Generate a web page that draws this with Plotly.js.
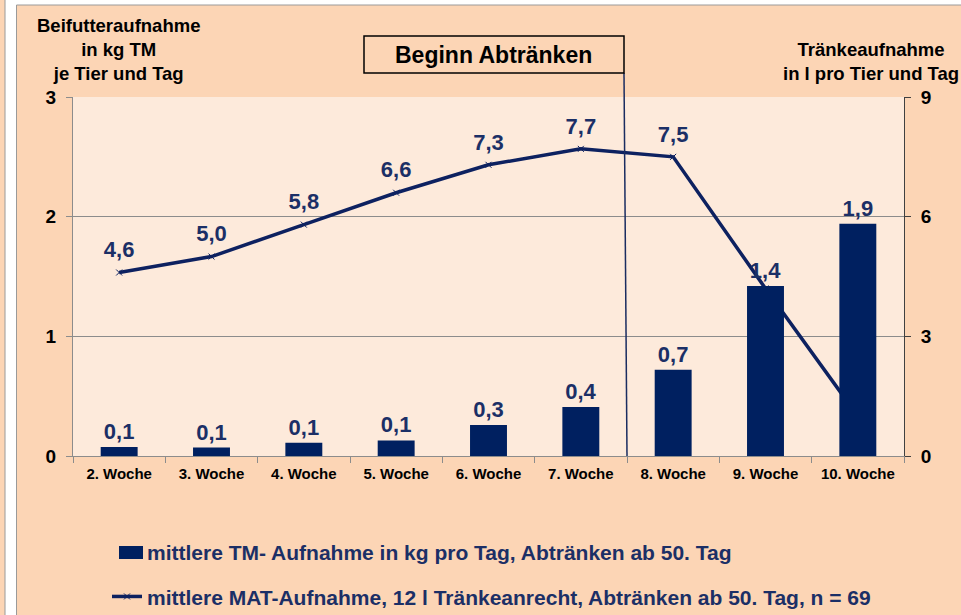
<!DOCTYPE html>
<html>
<head>
<meta charset="utf-8">
<script src="https://cdn.plot.ly/plotly-3.0.1.min.js"></script>
<style>
  html, body { margin: 0; padding: 0; background: #ffffff; }
  #chart { width: 961px; height: 615px; }
</style>
</head>
<body>
<div id="chart"></div>
<script>
// ---- data ----
const weeks = ["2. Woche", "3. Woche", "4. Woche", "5. Woche", "6. Woche", "7. Woche", "8. Woche", "9. Woche", "10. Woche"];
const tmIntake = [0.075, 0.07, 0.11, 0.13, 0.26, 0.41, 0.72, 1.42, 1.94];
const tmLabels = ["0,1", "0,1", "0,1", "0,1", "0,3", "0,4", "0,7", "1,4", "1,9"];
const matIntake = [4.6, 5.0, 5.8, 6.6, 7.3, 7.7, 7.5, 4.2, 1.0];
const matLabels = ["4,6", "5,0", "5,8", "6,6", "7,3", "7,7", "7,5", "", ""];
const leftTicks = [0, 1, 2, 3];
const rightTicks = [0, 3, 6, 9];

const navy = "#002060";
const labelNavy = "#1b2f66";
const font = "Liberation Sans, Arial, sans-serif";

// plot area in pixels
const L = 73, R = 904, T = 97, B = 456, W = 961, H = 615;
const px = x => (x - L) / (R - L);
const py = y => (B - y) / (B - T);

const traces = [
  {
    type: "bar",
    name: "mittlere TM- Aufnahme in kg pro Tag, Abtränken ab 50. Tag",
    x: weeks,
    y: tmIntake,
    yaxis: "y2",
    marker: { color: navy },
    text: tmLabels,
    textposition: "outside",
    cliponaxis: false,
    constraintext: "none",
    textfont: { family: font, size: 22, color: labelNavy, weight: "bold" },
    legendgroup: "a",
    hoverinfo: "x+y"
  },
  {
    type: "scatter",
    mode: "lines+markers",
    name: "mittlere MAT-Aufnahme, 12 l Tränkeanrecht, Abtränken ab 50. Tag, n = 69",
    x: weeks,
    y: matIntake,
    yaxis: "y",
    line: { color: "#0d2160", width: 3.5 },
    marker: { symbol: "x-thin", size: 6, color: "#0d2160", line: { color: "#0d2160", width: 1 } },
    cliponaxis: false,
    legendgroup: "b"
  },
  {
    type: "scatter",
    mode: "markers+text",
    x: weeks,
    y: matIntake,
    yaxis: "y",
    showlegend: false,
    hoverinfo: "skip",
    marker: { size: 14, color: "rgba(0,0,0,0)" },
    text: matLabels,
    textposition: "top center",
    cliponaxis: false,
    textfont: { family: font, size: 22, color: labelNavy, weight: "bold" },
    legendgroup: "b"
  }
];

const layout = {
  width: W,
  height: H,
  margin: { l: L, r: W - R, t: T, b: H - B, pad: 0, autoexpand: false },
  paper_bgcolor: "#fcd5b5",
  plot_bgcolor: "#fdeadb",
  showlegend: true,
  legend: {
    x: px(107), y: py(532), xanchor: "left", yanchor: "top",
    orientation: "v",
    traceorder: "grouped",
    tracegroupgap: 14,
    bgcolor: "rgba(0,0,0,0)",
    font: { family: font, size: 21, color: labelNavy, weight: "bold" }
  },
  bargap: 0.6,
  xaxis: {
    type: "category",
    range: [-0.5, weeks.length - 0.5],
    tickson: "boundaries",
    ticks: "outside",
    ticklen: 6,
    tickcolor: "#8c8c8c",
    showline: true,
    linecolor: "#8c8c8c",
    linewidth: 1,
    showgrid: false,
    ticklabelstandoff: 4,
    tickfont: { family: font, size: 15, color: "#000000", weight: "bold" }
  },
  yaxis: {
    side: "right",
    range: [0, 9],
    tickvals: rightTicks,
    ticktext: rightTicks.map(String),
    ticks: "outside",
    ticklen: 6,
    tickcolor: "#404040",
    showline: true,
    linecolor: "#404040",
    linewidth: 1,
    showgrid: true,
    gridcolor: "#8c8c8c",
    gridwidth: 1,
    zeroline: false,
    ticklabelstandoff: 6,
    tickfont: { family: font, size: 19, color: "#000000", weight: "bold" }
  },
  yaxis2: {
    overlaying: "y",
    side: "left",
    range: [0, 3],
    tickvals: leftTicks,
    ticktext: leftTicks.map(String),
    ticks: "outside",
    ticklen: 6,
    tickcolor: "#8c8c8c",
    showline: true,
    linecolor: "#8c8c8c",
    linewidth: 1,
    showgrid: false,
    zeroline: false,
    ticklabelstandoff: 6,
    tickfont: { family: font, size: 19, color: "#000000", weight: "bold" }
  },
  shapes: [
    // white strip and frame
    { type: "rect", xref: "paper", yref: "paper", layer: "below",
      x0: px(16), x1: px(W + 5), y0: py(5), y1: py(-5),
      fillcolor: "#ffffff", line: { width: 0 } },
    { type: "rect", xref: "paper", yref: "paper", layer: "below",
      x0: px(5), x1: px(16), y0: py(H + 5), y1: py(-5),
      fillcolor: "#ffffff", line: { width: 0 } },
    { type: "line", xref: "paper", yref: "paper", layer: "below",
      x0: px(5), x1: px(5), y0: py(H + 5), y1: py(-5),
      line: { color: "#9a9a9a", width: 1 } },
    { type: "line", xref: "paper", yref: "paper", layer: "below",
      x0: px(16.5), x1: px(16.5), y0: py(H + 5), y1: py(5),
      line: { color: "#9a9a9a", width: 1 } },
    { type: "line", xref: "paper", yref: "paper", layer: "below",
      x0: px(16.5), x1: px(W + 5), y0: py(5), y1: py(5),
      line: { color: "#9a9a9a", width: 1 } },
    // wider legend swatch for the bar series
    { type: "rect", xref: "paper", yref: "paper", layer: "above",
      x0: px(119), x1: px(143), y0: py(559), y1: py(546),
      fillcolor: navy, line: { width: 0 } },
    // Beginn Abtränken box and marker line
    { type: "line", xref: "paper", yref: "paper", layer: "above",
      x0: px(624), x1: px(627), y0: py(73), y1: py(456),
      line: { color: "#1a2c60", width: 1.5 } },
    { type: "rect", xref: "paper", yref: "paper", layer: "above",
      x0: px(364), x1: px(624), y0: py(73), y1: py(36),
      fillcolor: "#fcd5b5", line: { color: "#000000", width: 1.5 } }
  ],
  annotations: [
    { xref: "paper", yref: "paper", x: px(494), y: py(55), xanchor: "center", yanchor: "middle",
      text: "Beginn Abtränken", showarrow: false,
      font: { family: font, size: 23, color: "#000000", weight: "bold" } },
    { xref: "paper", yref: "paper", x: px(118), y: py(49), xanchor: "center", yanchor: "middle",
      text: "Beifutteraufnahme<br>in kg TM<br>je Tier und Tag", showarrow: false, align: "center",
      font: { family: font, size: 18.5, color: "#000000", weight: "bold" } },
    { xref: "paper", yref: "paper", x: px(871), y: py(62), xanchor: "center", yanchor: "middle",
      text: "Tränkeaufnahme<br>in l pro Tier und Tag", showarrow: false, align: "center",
      font: { family: font, size: 18.5, color: "#000000", weight: "bold" } }
  ]
};

Plotly.newPlot("chart", traces, layout, { displayModeBar: false, staticPlot: true });
</script>
</body>
</html>
